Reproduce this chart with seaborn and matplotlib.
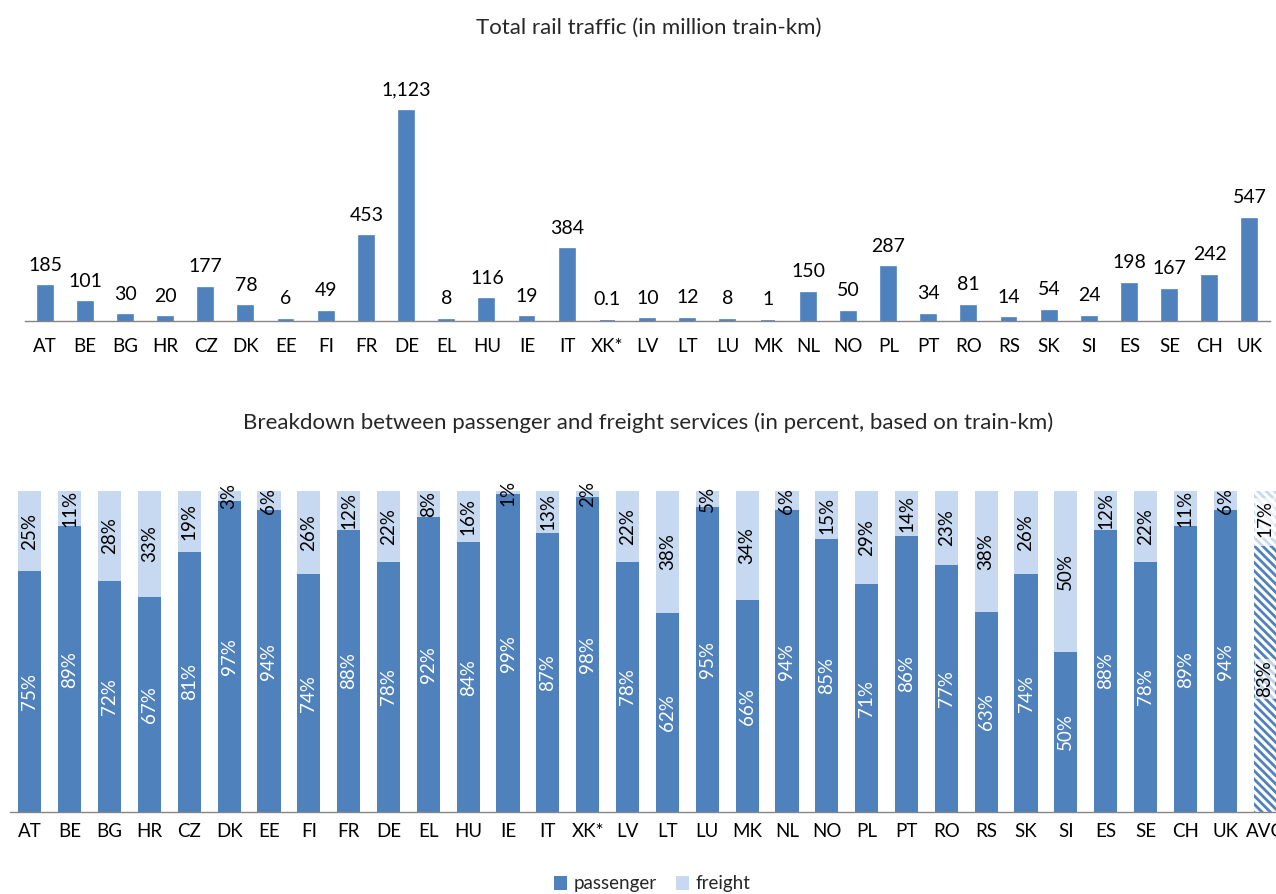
import matplotlib
matplotlib.use("Agg")
import matplotlib.pyplot as plt
from matplotlib.patches import Patch
import numpy as np
import pandas as pd
import seaborn as sns

# Total rail traffic per country (million train-km)
countries = ["AT", "BE", "BG", "HR", "CZ", "DK", "EE", "FI", "FR", "DE", "EL",
             "HU", "IE", "IT", "XK*", "LV", "LT", "LU", "MK", "NL", "NO", "PL",
             "PT", "RO", "RS", "SK", "SI", "ES", "SE", "CH", "UK"]
traffic = [185, 101, 30, 20, 177, 78, 6, 49, 453, 1123, 8,
           116, 19, 384, 0.1, 10, 12, 8, 1, 150, 50, 287,
           34, 81, 14, 54, 24, 198, 167, 242, 547]

# Passenger / freight split (percent of train-km), with the average last
split_labels = countries + ["AVG"]
passenger_pct = [75, 89, 72, 67, 81, 97, 94, 74, 88, 78, 92,
                 84, 99, 87, 98, 78, 62, 95, 66, 94, 85, 71,
                 86, 77, 63, 74, 50, 88, 78, 89, 94, 83]
freight_pct = [25, 11, 28, 33, 19, 3, 6, 26, 12, 22, 8,
               16, 1, 13, 2, 22, 38, 5, 34, 6, 15, 29,
               14, 23, 38, 26, 50, 12, 22, 11, 6, 17]

BLUE = "#4F81BD"
LIGHT = "#C6D9F1"
AXIS = "#868686"

sns.set_style("white")
plt.rcParams["font.family"] = ["Lato", "DejaVu Sans"]
plt.rcParams["hatch.linewidth"] = 2.0

TITLE_FS = 16
VALUE_FS = 14
TICK_FS = 13.5
PCT_FS = 13.5

W, H = 1276, 894
fig = plt.figure(figsize=(W / 100, H / 100), dpi=100)


def style_axis(ax, n, pad):
    ax.set_xlim(-0.5, n - 0.5)
    ax.set_yticks([])
    ax.set_ylabel("")
    ax.set_xlabel("")
    for side in ("top", "right", "left"):
        ax.spines[side].set_visible(False)
    ax.spines["bottom"].set_color(AXIS)
    ax.spines["bottom"].set_linewidth(1.0)
    ax.set_xticks(np.arange(n + 1) - 0.5, minor=True)
    ax.tick_params(axis="x", which="major", length=0, pad=pad,
                   labelsize=TICK_FS, labelcolor="black")
    ax.tick_params(axis="x", which="minor", length=4.3, width=1.0,
                   color=AXIS, direction="out")


# ---- top: total traffic ----
ax1 = fig.add_axes([25 / W, 1 - 321 / H, 1245 / W, 243 / H])
sns.barplot(x=countries, y=traffic, color=BLUE, saturation=1, width=0.37,
            linewidth=1.2, edgecolor=BLUE, errorbar=None, ax=ax1)
ax1.set_ylim(0, 1300)
style_axis(ax1, len(countries), pad=12)
ax1.bar_label(ax1.containers[0], labels=[f"{v:,g}" for v in traffic],
              padding=9, fontsize=VALUE_FS, color="black")
fig.text(649 / W, 1 - 28 / H, "Total rail traffic (in million train-km)",
         ha="center", va="center", fontsize=TITLE_FS)

# ---- bottom: passenger / freight breakdown (100 % stacked) ----
split = pd.DataFrame({"country": split_labels,
                      "passenger": passenger_pct,
                      "freight": freight_pct})
total = split["passenger"] + split["freight"]
split["passenger_share"] = split["passenger"] / total
split["stack_top"] = (split["passenger"] + split["freight"]) / total

ax2 = fig.add_axes([10 / W, 1 - 812 / H, 1275 / W, 321 / H])
sns.barplot(data=split, x="country", y="stack_top", color=LIGHT, saturation=1,
            width=0.58, linewidth=0, errorbar=None, ax=ax2)
sns.barplot(data=split, x="country", y="passenger_share", color=BLUE,
            saturation=1, width=0.58, linewidth=0, errorbar=None, ax=ax2)
ax2.set_ylim(0, 1)
style_axis(ax2, len(split_labels), pad=8)

# average bar drawn with hatching
avg_freight = ax2.containers[0][-1]
avg_pass = ax2.containers[1][-1]
for patch, col in ((avg_freight, LIGHT), (avg_pass, BLUE)):
    patch.set_facecolor("white")
    patch.set_edgecolor(col)
    patch.set_linewidth(0)
    patch.set_hatch("\\\\\\\\")

n_split = len(split_labels)
for i, row in split.iterrows():
    ps = row["passenger_share"]
    is_avg = i == n_split - 1
    box = dict(facecolor="white", edgecolor="none", alpha=0.65, pad=1) if is_avg else None
    ax2.text(i, ps / 2, f"{row['passenger']}%", rotation=90, ha="center",
             va="center", fontsize=PCT_FS,
             color="black" if is_avg else "white", bbox=box)
    ax2.text(i, ps + (row["stack_top"] - ps) / 2, f"{row['freight']}%",
             rotation=90, ha="center", va="center", fontsize=PCT_FS,
             color="black", bbox=box)

fig.text(648 / W, 1 - 423 / H,
         "Breakdown between passenger and freight services (in percent, based on train-km)",
         ha="center", va="center", fontsize=TITLE_FS)

handles = [Patch(facecolor=BLUE, edgecolor="none"),
           Patch(facecolor=LIGHT, edgecolor="none")]
fig.legend(handles, ["passenger", "freight"], loc="center",
           bbox_to_anchor=(652 / W, 1 - 884 / H), ncol=2, frameon=False,
           handlelength=0.7, handleheight=0.7, handletextpad=0.35,
           columnspacing=1.0, fontsize=TICK_FS, borderpad=0)

fig.savefig("out.png", dpi=100)
